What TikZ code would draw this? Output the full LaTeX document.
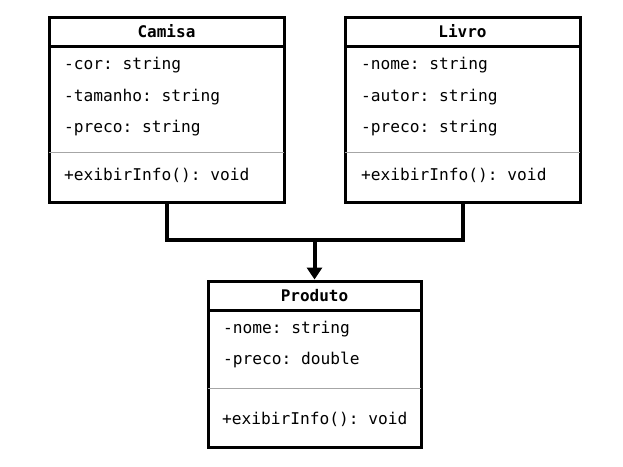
\documentclass[tikz,border=0pt]{standalone}
\usepackage{fontspec}
\setmonofont{DejaVu Sans Mono}
\usetikzlibrary{arrows.meta}
\tikzstyle{classbox} = [rectangle, draw=black, line width=3pt, inner sep=0pt]
\tikzstyle{title} = [font=\ttfamily\bfseries\fontsize{16}{19}\selectfont, anchor=base]
\tikzstyle{member} = [font=\ttfamily\fontsize{16.2}{19}\selectfont, anchor=base west, inner sep=0pt]
\tikzstyle{divider} = [line width=1pt, black!35]
\tikzstyle{arrow} = [line width=4pt, -{Triangle[width=15pt,length=12pt]}]

\begin{document}
\begin{tikzpicture}[x=1pt, y=-1pt]
		\useasboundingbox (0,0) rectangle (623,466);
		% classes
		\node (camisa) [classbox, minimum width=235pt, minimum height=185pt] at (166.5,109.5) {};
		\node (livro) [classbox, minimum width=235pt, minimum height=185pt] at (462.5,109.5) {};
		\node (produto) [classbox, minimum width=213pt, minimum height=166pt] at (314.5,364) {};
		\draw [line width=3pt] (49,46) -- (284,46);
		\draw [line width=3pt] (345,46) -- (580,46);
		\draw [line width=3pt] (208,310) -- (421,310);
		\draw [divider] (49,152) -- (284,152);
		\draw [divider] (345,152) -- (580,152);
		\draw [divider] (208,388) -- (421,388);
		% Camisa
		\node (c0) [title] at (166.5,37.5) {Camisa};
		\node (c1) [member] at (64,69.5) {-cor: string};
		\node (c2) [member] at (64,101.5) {-tamanho: string};
		\node (c3) [member] at (64,132.5) {-preco: string};
		\node (c4) [member] at (64,180.5) {+exibirInfo(): void};
		% Livro
		\node (l0) [title] at (462.5,37.5) {Livro};
		\node (l1) [member] at (361,69.5) {-nome: string};
		\node (l2) [member] at (361,101.5) {-autor: string};
		\node (l3) [member] at (361,132.5) {-preco: string};
		\node (l4) [member] at (361,180.5) {+exibirInfo(): void};
		% Produto
		\node (p0) [title] at (314.5,301.5) {Produto};
		\node (p1) [member] at (223,333.5) {-nome: string};
		\node (p2) [member] at (223,364.5) {-preco: double};
		\node (p3) [member] at (222,424.5) {+exibirInfo(): void};
		% inheritance
		\coordinate (join) at (314.5,240);
		\draw [line width=4pt] (camisa.south) |- (join) -| (livro.south);
		\draw [arrow] (join) -- (produto.north);
\end{tikzpicture}
\end{document}
